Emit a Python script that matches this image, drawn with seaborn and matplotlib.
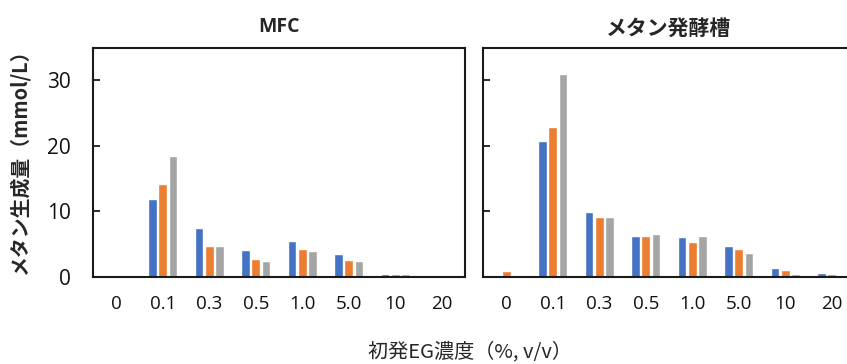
import matplotlib
matplotlib.use("Agg")
import matplotlib.pyplot as plt
import seaborn as sns
import pandas as pd

categories = ["0", "0.1", "0.3", "0.5", "1.0", "5.0", "10", "20"]
series_names = ["系列1", "系列2", "系列3"]
colors = ["#4472C4", "#ED7D31", "#A5A5A5"]

mfc_s1 = [0.0, 11.9, 7.4, 4.1, 5.5, 3.5, 0.5, 0.0]
mfc_s2 = [0.0, 14.2, 4.8, 2.8, 4.2, 2.6, 0.5, 0.3]
mfc_s3 = [0.0, 18.4, 4.7, 2.5, 4.0, 2.5, 0.5, 0.15]

tank_s1 = [0.0, 20.8, 9.9, 6.3, 6.1, 4.7, 1.35, 0.55]
tank_s2 = [0.9, 22.9, 9.1, 6.3, 5.4, 4.2, 1.1, 0.4]
tank_s3 = [0.0, 30.9, 9.1, 6.6, 6.3, 3.7, 0.5, 0.0]

panel_titles = ["MFC", "メタン発酵槽"]
y_ticks = [0, 10, 20, 30]
y_label = "メタン生成量（mmol/L）"
x_label = "初発EG濃度（%, v/v）"


def long_df(s1, s2, s3):
    rows = []
    for name, vals in zip(series_names, [s1, s2, s3]):
        for c, v in zip(categories, vals):
            rows.append({"cat": c, "series": name, "value": v})
    return pd.DataFrame(rows)


sns.set_theme(style="white")
plt.rcParams["font.family"] = ["Noto Sans CJK JP", "DejaVu Sans"]
num_font = ["Open Sans", "DejaVu Sans"]

W, H = 847, 364
fig = plt.figure(figsize=(W / 100, H / 100), dpi=100)
ax1 = fig.add_axes([93 / W, (H - 277) / H, 372 / W, (277 - 47.5) / H])
ax2 = fig.add_axes([483 / W, (H - 277) / H, 372 / W, (277 - 47.5) / H])

data = [long_df(mfc_s1, mfc_s2, mfc_s3), long_df(tank_s1, tank_s2, tank_s3)]

for i, (ax, df, title) in enumerate(zip([ax1, ax2], data, panel_titles)):
    sns.barplot(data=df, x="cat", y="value", hue="series", order=categories,
                hue_order=series_names, palette=colors, width=0.67, gap=0.18,
                legend=False, ax=ax, saturation=1)
    ax.set_xlim(-0.5, len(categories) - 0.5)
    ax.set_ylim(0, 35)
    ax.set_yticks(y_ticks)
    ax.set_xlabel("")
    ax.set_ylabel("")
    for sp in ax.spines.values():
        sp.set_visible(True)
        sp.set_color("#1a1a1a")
        sp.set_linewidth(1.5)
    ax.tick_params(axis="y", direction="in", length=5, width=1.3,
                   color="#1a1a1a", pad=16, labelsize=15, left=True,
                   labelcolor="#111111")
    ax.tick_params(axis="x", length=0, pad=13, labelsize=13.5,
                   labelcolor="#111111")
    for lab in ax.get_yticklabels() + ax.get_xticklabels():
        lab.set_family(num_font)
    if title == "MFC":
        ax.set_title(title, fontsize=14, fontweight="bold", pad=11,
                     family=num_font)
    else:
        ax.set_title(title, fontsize=15, fontweight="bold", pad=9)
    if i == 1:
        ax.set_yticklabels([])

ax1.set_ylabel(y_label, fontsize=14.3, fontweight="bold")
ax1.yaxis.set_label_coords(-0.17, 0.52)
fig.text(470 / W, 1 - 352 / H, x_label, ha="center", va="center", fontsize=14.5)

fig.savefig("out.png", dpi=100)
